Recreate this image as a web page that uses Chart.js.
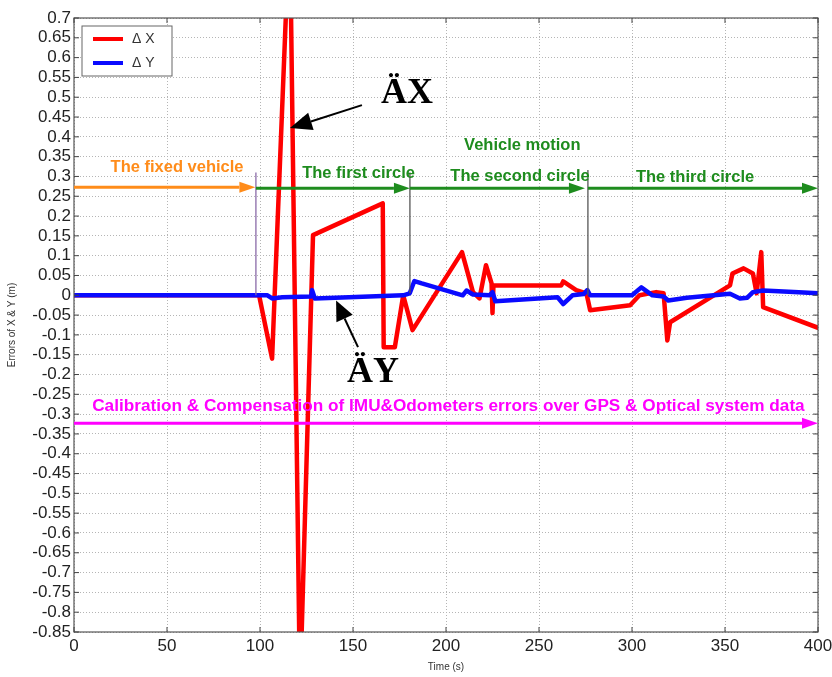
<!DOCTYPE html>
<html>
<head>
<meta charset="utf-8">
<script src="https://cdn.jsdelivr.net/npm/chart.js@4.4.0/dist/chart.umd.min.js"></script>
<style>
  html, body { margin: 0; padding: 0; background: #fff; }
  #wrap { width: 832px; height: 677px; }
</style>
</head>
<body>
<div id="wrap"><canvas id="grafica"></canvas></div>
<script>
// ---- data ----
const tX = [0, 99.5, 106.5, 116, 121.5, 128.5, 166, 166.5, 172.5, 177, 182, 208.6, 214.5, 218, 221.5, 224.5, 225, 225.5,
  262, 263, 270, 275.5, 277.5, 299, 304, 313, 317, 319, 320.5, 352.7, 354, 360, 365, 367, 369.5, 370.5, 400];
const dX = [0, 0, -0.16, 0.95, -1.0, 0.152, 0.232, -0.131, -0.131, 0.0, -0.088, 0.109, 0.008, -0.008, 0.076, 0.03, -0.045, 0.025,
  0.025, 0.035, 0.013, 0.005, -0.038, -0.025, 0.0, 0.008, 0.005, -0.114, -0.068, 0.025, 0.055, 0.068, 0.055, 0.005, 0.109, -0.03, -0.082];

const tY = [0, 104, 106.5, 112, 127.5, 128, 129.5, 177, 180.5, 183, 187, 209, 211, 214.5, 223.5, 225, 226.5, 260, 263, 268,
  274, 276, 277.5, 300, 305, 311, 317, 319.5, 329.5, 352.7, 358, 362, 365, 370.5, 387, 400];
const dY = [0, 0, -0.008, -0.005, -0.003, 0.013, -0.008, 0.0, 0.005, 0.036, 0.03, 0.0, 0.012, 0.002, 0.0, 0.008, -0.015, -0.005, -0.022, 0.0,
  0.003, 0.013, 0.0, 0.0, 0.02, 0.0, -0.003, -0.013, -0.006, 0.004, -0.008, -0.006, 0.008, 0.012, 0.008, 0.005];

const etiquetas = ['\u0394 X', '\u0394 Y'];

// phase arrows: [from, to, y, color]
const flechas = [
  [0, 97.5, 0.273, '#ff8c1a'],
  [97.8, 180.6, 0.27, '#1e8c1e'],
  [180.6, 274.7, 0.27, '#1e8c1e'],
  [276.3, 400, 0.27, '#1e8c1e'],
  [0, 400, -0.323, '#ff00ff']
];
// vertical separators: [t, yTop, yBottom, color]
const separadores = [
  [97.8, 0.31, 0.0, '#8a6aa8'],
  [180.6, 0.31, 0.005, '#555555'],
  [276.3, 0.316, 0.0, '#555555']
];
// texts: [text, t, y, color]
const textos = [
  ['The fixed vehicle', 55.4, 0.323, '#ff8c1a'],
  ['The first circle', 153, 0.308, '#1e8c1e'],
  ['Vehicle motion', 241, 0.379, '#1e8c1e'],
  ['The second circle', 239.8, 0.30, '#1e8c1e'],
  ['The third circle', 333.9, 0.298, '#1e8c1e'],
  ['Calibration & Compensation of IMU&Odometers errors over GPS & Optical system data', 201.3, -0.28, '#ff00ff']
];

const puntos = (ts, vs) => ts.map((t, i) => ({x: t, y: vs[i]}));

const flecha = (ctx, x1, y1, x2, y2, color, ancho, largo, mitad) => {
  const ang = Math.atan2(y2 - y1, x2 - x1);
  const bx = x2 - largo * Math.cos(ang), by = y2 - largo * Math.sin(ang);
  ctx.strokeStyle = color; ctx.fillStyle = color; ctx.lineWidth = ancho;
  ctx.beginPath(); ctx.moveTo(x1, y1); ctx.lineTo(bx, by); ctx.stroke();
  ctx.beginPath();
  ctx.moveTo(x2, y2);
  ctx.lineTo(bx + mitad * Math.sin(ang), by - mitad * Math.cos(ang));
  ctx.lineTo(bx - mitad * Math.sin(ang), by + mitad * Math.cos(ang));
  ctx.closePath(); ctx.fill();
};

/********** annotations, frame and legend *******************/
const extras = {
  id: 'extras',
  afterDatasetsDraw(chart) {
    const {ctx, chartArea: a, scales: {x, y}} = chart;
    ctx.save();

    // frame + inner ticks (matlab style)
    ctx.strokeStyle = '#555'; ctx.lineWidth = 1.2;
    ctx.strokeRect(a.left, a.top, a.right - a.left, a.bottom - a.top);
    ctx.lineWidth = 1; ctx.strokeStyle = '#444';
    ctx.beginPath();
    x.ticks.forEach(t => {
      const px = x.getPixelForValue(t.value);
      ctx.moveTo(px, a.bottom); ctx.lineTo(px, a.bottom - 5);
      ctx.moveTo(px, a.top); ctx.lineTo(px, a.top + 5);
    });
    y.ticks.forEach(t => {
      const py = y.getPixelForValue(t.value);
      ctx.moveTo(a.left, py); ctx.lineTo(a.left + 5, py);
      ctx.moveTo(a.right, py); ctx.lineTo(a.right - 5, py);
    });
    ctx.stroke();

    separadores.forEach(([t, y1, y2, c]) => {
      const px = x.getPixelForValue(t);
      ctx.strokeStyle = c; ctx.lineWidth = 1.3;
      ctx.beginPath(); ctx.moveTo(px, y.getPixelForValue(y1)); ctx.lineTo(px, y.getPixelForValue(y2)); ctx.stroke();
    });

    flechas.forEach(([t1, t2, v, c]) => {
      const py = y.getPixelForValue(v);
      flecha(ctx, x.getPixelForValue(t1), py, x.getPixelForValue(t2), py, c, 3, 16, 5.5);
    });

    ctx.textAlign = 'center'; ctx.textBaseline = 'middle';
    textos.forEach(([s, t, v, c], i) => {
      ctx.font = (i === 5 ? 'bold 17.2px' : 'bold 16.5px') + ' "Liberation Sans", Arial, sans-serif';
      ctx.fillStyle = c;
      ctx.fillText(s, x.getPixelForValue(t), y.getPixelForValue(v));
    });

    // big labels with pointers
    ctx.fillStyle = '#000';
    ctx.font = 'bold 36px "Liberation Serif", "Times New Roman", serif';
    ctx.textBaseline = 'alphabetic';
    ctx.fillText('\u00c4X', x.getPixelForValue(179), y.getPixelForValue(0.485));
    ctx.fillText('\u00c4Y', x.getPixelForValue(160.8), y.getPixelForValue(-0.22));
    flecha(ctx, x.getPixelForValue(154.8), y.getPixelForValue(0.48), x.getPixelForValue(116.1), y.getPixelForValue(0.422), '#000', 2, 22, 9);
    flecha(ctx, x.getPixelForValue(152.7), y.getPixelForValue(-0.131), x.getPixelForValue(140.9), y.getPixelForValue(-0.013), '#000', 2, 20, 9);

    // legend box
    const lx = a.left + 8, ly = a.top + 8;
    ctx.fillStyle = '#fff'; ctx.fillRect(lx, ly, 90, 50);
    ctx.strokeStyle = '#666'; ctx.lineWidth = 1; ctx.strokeRect(lx, ly, 90, 50);
    ctx.font = '14px "Liberation Sans", Arial, sans-serif';
    ctx.textAlign = 'left'; ctx.textBaseline = 'middle';
    chart.data.datasets.forEach((ds, i) => {
      const yy = ly + 13 + i * 24;
      ctx.strokeStyle = ds.borderColor; ctx.lineWidth = 4;
      ctx.beginPath(); ctx.moveTo(lx + 11, yy); ctx.lineTo(lx + 41, yy); ctx.stroke();
      ctx.fillStyle = '#333';
      ctx.fillText(ds.label, lx + 50, yy);
    });
    ctx.restore();
  }
};

const fuente = '"Liberation Sans", Arial, sans-serif';

new Chart(document.getElementById('grafica'), {
  type: 'line',
  data: {
    datasets: [
      {label: etiquetas[0], data: puntos(tX, dX), borderColor: '#ff0000', borderWidth: 4.5, order: 1},
      {label: etiquetas[1], data: puntos(tY, dY), borderColor: '#0a0aff', borderWidth: 4.5, order: 0}
    ]
  },
  options: {
    responsive: true,
    maintainAspectRatio: false,
    animation: false,
    devicePixelRatio: 1,
    layout: {padding: {top: 18, right: 0, left: 0, bottom: 0}},
    elements: {
      point: {radius: 0},
      line: {tension: 0, borderJoinStyle: 'round', borderCapStyle: 'round'}
    },
    datasets: {line: {clip: 0}},
    plugins: {legend: {display: false}, tooltip: {enabled: false}},
    scales: {
      x: {
        type: 'linear', min: 0, max: 400,
        ticks: {stepSize: 50, color: '#222', font: {family: fuente, size: 17}, padding: 4, maxRotation: 0},
        grid: {color: '#b5b5b5', drawTicks: false},
        border: {display: false, dash: [1, 2]},
        title: {display: true, text: 'Time (s)', color: '#333', font: {family: fuente, size: 10}, padding: {top: 0, bottom: 4}},
        afterFit: s => { s.height = 45; s.paddingRight = 14; }
      },
      y: {
        min: -0.85, max: 0.7,
        ticks: {stepSize: 0.05, autoSkip: false, color: '#222', font: {family: fuente, size: 17}, padding: 3,
          callback: v => String(+v.toFixed(2))},
        grid: {color: '#b5b5b5', drawTicks: false},
        border: {display: false, dash: [1, 2]},
        title: {display: true, text: 'Errors of X & Y (m)', color: '#333', font: {family: fuente, size: 10}, padding: {top: 6, bottom: 0}},
        afterFit: s => { s.width = 74; }
      }
    }
  },
  plugins: [extras]
});
</script>
</body>
</html>
